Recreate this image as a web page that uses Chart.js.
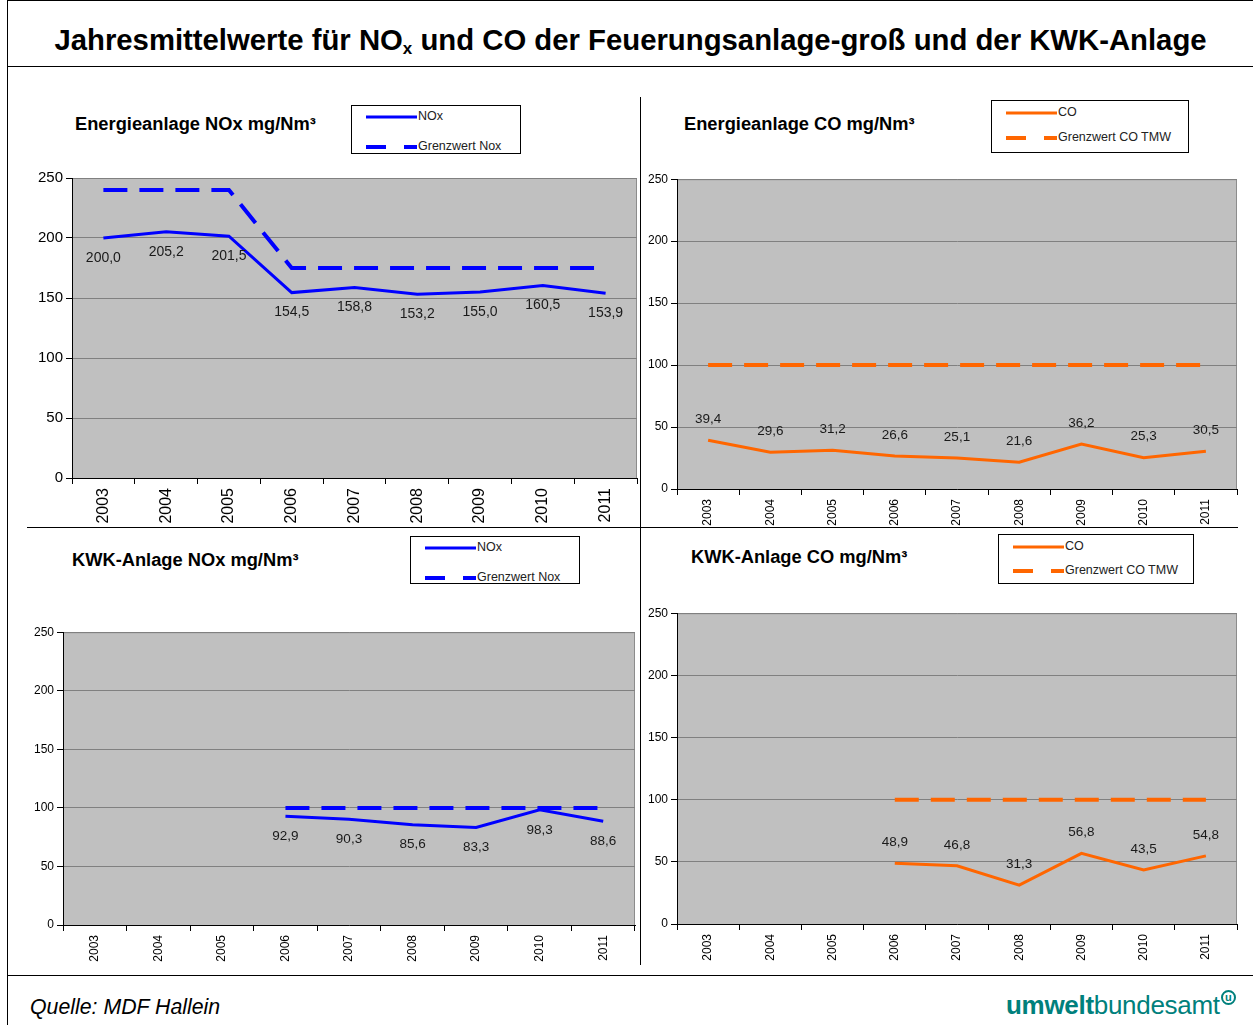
<!DOCTYPE html>
<html>
<head>
<meta charset="utf-8">
<script src="https://cdn.jsdelivr.net/npm/chart.js@4.4.0/dist/chart.umd.min.js"></script>
<style>
    body { margin: 0; background: #fff; font-family: "Liberation Sans", Arial, sans-serif; }
    #page { position: relative; width: 1253px; height: 1025px; overflow: hidden; }
    .abs { position: absolute; }
    .frame { left: 7px; top: 0px; width: 1250px; height: 974px; border: 1px solid #000; border-right: none; }
    .leftline { left: 7px; top: 0px; width: 1px; height: 1025px; background: #000; }
    .hline { height: 1px; background: #000; }
    .vline { width: 1px; background: #000; }
    #main_title { left: 8px; top: 23px; width: 1245px; text-align: center; font-size: 29.3px; font-weight: bold; }
    #main_title sub { font-size: 17px; vertical-align: -4px; }
    .ctitle { font-size: 18.3px; font-weight: bold; white-space: nowrap; }
    .legend { border: 1px solid #000; background: #fff; font-size: 12.5px; color: #222; }
    .legend .row { position: absolute; left: 14px; height: 14px; line-height: 14px; white-space: nowrap; }
    .legend svg { vertical-align: middle; margin-right: 1px; }
    .box { position: absolute; }
    #quelle { left: 30px; top: 995px; font-size: 21.3px; font-style: italic; }
    #logo { left: 1006px; top: 990px; font-size: 26px; color: #00807c; letter-spacing: -0.3px; }
    #logo b { font-weight: bold; }
    #logo sup { display: inline-block; font-size: 11px; font-weight: bold; width: 11px; height: 11px; line-height: 10px;
        border: 2px solid #00807c; border-radius: 50%; text-align: center; vertical-align: 13px; margin-left: 1px; }
</style>
</head>
<body>
<div id="page">
    <div class="abs frame"></div>
    <div class="abs leftline"></div>
    <div class="abs hline" style="left:7px; top:66px; width:1246px;"></div>
    <div class="abs hline" style="left:27px; top:527px; width:1211px;"></div>
    <div class="abs vline" style="left:640px; top:97px; height:868px;"></div>
    <div class="abs" id="main_title">Jahresmittelwerte für NO<sub>x</sub> und CO der Feuerungsanlage-groß und der KWK-Anlage</div>

    <div class="abs ctitle" style="left:75px; top:113px;">Energieanlage NOx mg/Nm³</div>
    <div class="abs ctitle" style="left:684px; top:113px;">Energieanlage CO mg/Nm³</div>
    <div class="abs ctitle" style="left:72px; top:549px;">KWK-Anlage NOx mg/Nm³</div>
    <div class="abs ctitle" style="left:691px; top:546px;">KWK-Anlage CO mg/Nm³</div>

    <div class="box" id="box_1" style="left:22px; top:166px; width:620px; height:362px;"><canvas id="chart_1"></canvas></div>
    <div class="box" id="box_2" style="left:643px; top:169px; width:599px; height:365px;"><canvas id="chart_2"></canvas></div>
    <div class="box" id="box_3" style="left:23px; top:622px; width:616px; height:348px;"><canvas id="chart_3"></canvas></div>
    <div class="box" id="box_4" style="left:643px; top:603px; width:599px; height:366px;"><canvas id="chart_4"></canvas></div>

    <div class="abs legend" id="legend_1" style="left:351px; top:105px; width:168px; height:47px;"></div>
    <div class="abs legend" id="legend_2" style="left:991px; top:100px; width:196px; height:51px;"></div>
    <div class="abs legend" id="legend_3" style="left:410px; top:536px; width:168px; height:46px;"></div>
    <div class="abs legend" id="legend_4" style="left:998px; top:534px; width:194px; height:48px;"></div>

    <div class="abs" id="quelle">Quelle: MDF Hallein</div>
    <div class="abs" id="logo"><b>umwelt</b>bundesamt<sup>u</sup></div>
</div>

<script>
const years = ['2003', '2004', '2005', '2006', '2007', '2008', '2009', '2010', '2011'];
const y_ticks = [0, 50, 100, 150, 200, 250];

// Energieanlage (Feuerungsanlage-groß)
const energie_nox = [200.0, 205.2, 201.5, 154.5, 158.8, 153.2, 155.0, 160.5, 153.9];
const energie_nox_grenz = [240, 240, 240, 175, 175, 175, 175, 175, 175];
const energie_co = [39.4, 29.6, 31.2, 26.6, 25.1, 21.6, 36.2, 25.3, 30.5];
const energie_co_grenz = [100, 100, 100, 100, 100, 100, 100, 100, 100];

// KWK-Anlage, Werte erst ab 2006
const kwk_nox = [null, null, null, 92.9, 90.3, 85.6, 83.3, 98.3, 88.6];
const kwk_nox_grenz = [null, null, null, 100, 100, 100, 100, 100, 100];
const kwk_co = [null, null, null, 48.9, 46.8, 31.3, 56.8, 43.5, 54.8];
const kwk_co_grenz = [null, null, null, 100, 100, 100, 100, 100, 100];

const blue = '#0000ff';
const orange = '#ff6600';
const font_family = '"Liberation Sans", Arial, sans-serif';

// grauer Hintergrund der Zeichenfläche
const plot_bg = {
    id: 'plot_bg',
    beforeDraw(chart) {
        const a = chart.chartArea;
        const c = chart.ctx;
        c.save();
        c.fillStyle = '#c0c0c0';
        c.fillRect(a.left, a.top, a.right - a.left, a.bottom - a.top);
        c.strokeStyle = '#8c8c8c';
        c.lineWidth = 1;
        c.beginPath();
        c.moveTo(a.left, a.top + 0.5);
        c.lineTo(a.right - 0.5, a.top + 0.5);
        c.lineTo(a.right - 0.5, a.bottom);
        c.stroke();
        c.restore();
    }
};

// Werte an die Punkte schreiben (mit Komma)
const value_labels = {
    id: 'value_labels',
    afterDatasetsDraw(chart) {
        const c = chart.ctx;
        chart.data.datasets.forEach((ds, i) => {
            if (ds.labelOffset === undefined) return;
            const meta = chart.getDatasetMeta(i);
            c.save();
            c.font = ds.labelFont + 'px ' + font_family;
            c.fillStyle = '#1a1a1a';
            c.textAlign = 'center';
            c.textBaseline = 'middle';
            meta.data.forEach((pt, j) => {
                const v = ds.data[j];
                if (v === null) return;
                c.fillText(v.toFixed(1).replace('.', ','), pt.x, pt.y + ds.labelOffset);
            });
            c.restore();
        });
    }
};

function make_chart(id, values, limits, names, color, opts) {
    const ctx = document.getElementById(id).getContext('2d');
    return new Chart(ctx, {
        type: 'line',
        data: {
            labels: years,
            datasets: [{
                label: names[0],
                data: values,
                borderColor: color,
                borderWidth: 3,
                pointRadius: 0,
                tension: 0,
                labelOffset: opts.labelOffset,
                labelFont: opts.labelFont
            }, {
                label: names[1],
                data: limits,
                borderColor: color,
                borderWidth: 4,
                borderDash: [24, 12],
                pointRadius: 0,
                tension: 0
            }]
        },
        options: {
            responsive: true,
            maintainAspectRatio: false,
            animation: false,
            events: [],
            layout: { padding: { top: opts.padTop, right: opts.padRight, left: 0, bottom: 0 } },
            plugins: { legend: { display: false }, tooltip: { enabled: false }, title: { display: false } },
            scales: {
                x: {
                    type: 'category',
                    offset: true,
                    grid: { offset: true, drawOnChartArea: false, drawTicks: true, tickLength: 6, color: '#000' },
                    border: { color: '#000', width: 1 },
                    ticks: {
                        color: '#000',
                        minRotation: 90,
                        maxRotation: 90,
                        autoSkip: false,
                        padding: 4,
                        font: { family: font_family, size: opts.xFont }
                    },
                    afterFit: function(scale) { scale.height = opts.xHeight; }
                },
                y: {
                    min: 0,
                    max: 250,
                    afterBuildTicks: function(scale) { scale.ticks = y_ticks.map(v => ({ value: v })); },
                    grid: { color: '#808080', tickColor: '#000', tickLength: 6, lineWidth: 1 },
                    border: { color: '#000', width: 1 },
                    ticks: {
                        color: '#000',
                        padding: 3,
                        font: { family: font_family, size: opts.yFont }
                    },
                    afterFit: function(scale) { scale.width = opts.yWidth; }
                }
            }
        },
        plugins: [plot_bg, value_labels]
    });
}

function make_legend(id, chart, rows) {
    const box = document.getElementById(id);
    chart.data.datasets.forEach((ds, i) => {
        const row = document.createElement('div');
        row.className = 'row';
        row.style.top = rows[i] + 'px';
        const dash = ds.borderDash ? 'stroke-dasharray="20 18"' : '';
        row.innerHTML = '<svg width="51" height="6"><line x1="0" y1="3" x2="51" y2="3" stroke="' + ds.borderColor +
            '" stroke-width="' + (ds.borderDash ? 4 : 3) + '" ' + dash + '/></svg>' + ds.label;
        box.appendChild(row);
    });
}

var chart_1 = make_chart('chart_1', energie_nox, energie_nox_grenz, ['NOx', 'Grenzwert Nox'], blue,
    { padTop: 5, padRight: 5, yWidth: 50, xHeight: 50, xFont: 16, yFont: 15, labelOffset: 20, labelFont: 14 });
var chart_2 = make_chart('chart_2', energie_co, energie_co_grenz, ['CO', 'Grenzwert CO TMW'], orange,
    { padTop: 8, padRight: 5, yWidth: 34, xHeight: 45, xFont: 12, yFont: 12, labelOffset: -21, labelFont: 13.5 });
var chart_3 = make_chart('chart_3', kwk_nox, kwk_nox_grenz, ['NOx', 'Grenzwert Nox'], blue,
    { padTop: 7, padRight: 4, yWidth: 40, xHeight: 45, xFont: 12, yFont: 12, labelOffset: 20, labelFont: 13.5 });
var chart_4 = make_chart('chart_4', kwk_co, kwk_co_grenz, ['CO', 'Grenzwert CO TMW'], orange,
    { padTop: 8, padRight: 5, yWidth: 34, xHeight: 45, xFont: 12, yFont: 12, labelOffset: -21, labelFont: 13.5 });

make_legend('legend_1', chart_1, [3, 33]);
make_legend('legend_2', chart_2, [4, 29]);
make_legend('legend_3', chart_3, [3, 33]);
make_legend('legend_4', chart_4, [4, 28]);
</script>
</body>
</html>
